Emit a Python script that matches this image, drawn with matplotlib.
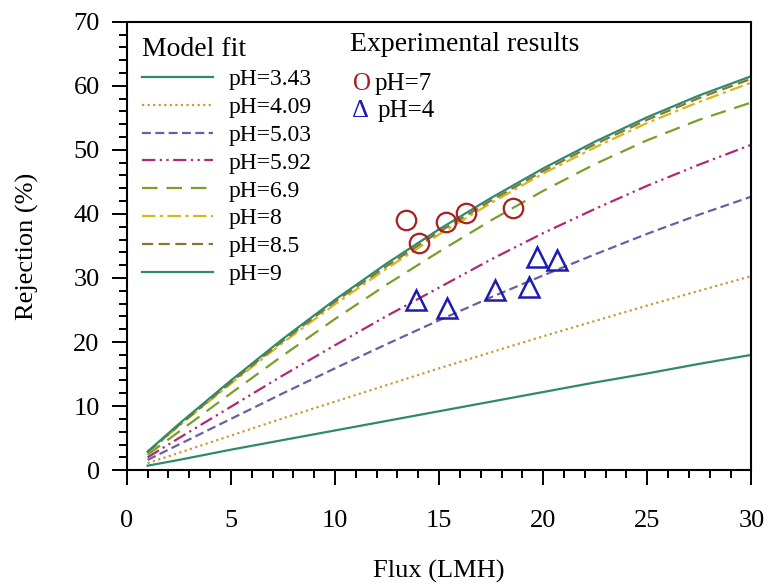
import numpy as np
import matplotlib.pyplot as plt
from matplotlib.ticker import MultipleLocator

plt.rcParams['font.family'] = ['Liberation Serif', 'DejaVu Serif']

# model curves
flux = [1, 2.5, 5, 7.5, 10, 12.5, 15, 17.5, 20, 22.5, 25, 27.5, 30]
fit_ph343 = [0.7, 1.6, 3.2, 4.7, 6.2, 7.7, 9.2, 10.7, 12.2, 13.7, 15.1, 16.6, 18.0]
fit_ph409 = [1.1, 2.7, 5.4, 8.1, 10.7, 13.3, 15.9, 18.4, 20.9, 23.3, 25.7, 28.0, 30.3]
fit_ph503 = [1.6, 4.0, 8.0, 12.0, 15.9, 19.7, 23.4, 27.0, 30.4, 33.7, 36.9, 39.9, 42.7]
fit_ph592 = [2.0, 5.0, 9.9, 14.8, 19.5, 24.1, 28.5, 32.9, 37.0, 40.8, 44.4, 47.7, 50.8]
fit_ph69 = [2.4, 6.0, 12.0, 17.9, 23.6, 29.0, 34.1, 39.0, 43.6, 47.8, 51.5, 54.7, 57.4]
fit_ph8 = [2.7, 6.9, 13.5, 19.9, 25.9, 31.5, 36.8, 41.7, 46.3, 50.4, 54.2, 57.5, 60.5]
fit_ph85 = [2.8, 7.0, 13.7, 20.2, 26.3, 31.9, 37.2, 42.1, 46.7, 50.9, 54.7, 58.1, 61.1]
fit_ph9 = [2.9, 7.2, 14.0, 20.5, 26.6, 32.3, 37.6, 42.5, 47.1, 51.3, 55.1, 58.5, 61.5]

# experimental points
exp7_flux = [13.4, 14.05, 15.35, 16.3, 18.55]
exp7_rej = [39.1, 35.4, 38.8, 40.1, 41.0]
exp4_flux = [13.9, 15.4, 17.7, 19.3, 19.7, 20.65]
exp4_rej = [26.6, 25.3, 28.1, 28.6, 33.3, 32.8]

fig = plt.figure(figsize=(7.73, 5.87), dpi=100)
ax = fig.add_axes([0.164, 0.199, 0.808, 0.764])

fits = [
    ("pH=3.43", fit_ph343, '#2f8a6c', '-'),
    ("pH=4.09", fit_ph409, '#c89a40', (0, (1, 1.5))),
    ("pH=5.03", fit_ph503, '#6a5fa0', (0, (4, 2))),
    ("pH=5.92", fit_ph592, '#b02878', (0, (6, 2, 1, 2, 1, 2))),
    ("pH=6.9", fit_ph69, '#78a028', (0, (7, 4))),
    ("pH=8", fit_ph8, '#d8b818', (0, (6, 2, 1.5, 2))),
    ("pH=8.5", fit_ph85, '#8a7434', (0, (5, 2.5))),
    ("pH=9", fit_ph9, '#2f8a6c', '-'),
]
for label, vals, color, ls in fits:
    ax.plot(flux, vals, color=color, linestyle=ls, lw=1.6, label=label)

ax.plot(exp7_flux, exp7_rej, 'o', ms=14, mfc='none', mec='#a82020', mew=1.6)
ax.plot(exp4_flux, exp4_rej, '^', ms=14, mfc='none', mec='#1c1cb0', mew=1.8)

ax.set_xlim(0, 30)
ax.set_ylim(0, 70)
ax.xaxis.set_major_locator(MultipleLocator(5))
ax.xaxis.set_minor_locator(MultipleLocator(1))
ax.yaxis.set_major_locator(MultipleLocator(10))
ax.yaxis.set_minor_locator(MultipleLocator(2))
ax.tick_params(which='major', length=10.5, width=1.4, labelsize=19)
ax.tick_params(which='minor', length=6, width=1.4)
ax.tick_params(axis='x', pad=18)
ax.tick_params(axis='y', pad=9)
for s in ax.spines.values():
    s.set_linewidth(1.5)

ax.set_xlabel("Flux (LMH)", fontsize=19)
ax.set_ylabel("Rejection (%)", fontsize=19)
ax.xaxis.set_label_coords(0.5, -0.2)
ax.yaxis.set_label_coords(-0.141, 0.5)

leg = ax.legend(loc='upper left', frameon=False, title="Model fit",
                fontsize=17, handlelength=3.0,
                handletextpad=0.65, labelspacing=0.27,
                bbox_to_anchor=(0.0, 1.0), borderaxespad=0.25)
leg.get_title().set_fontsize(20)
leg._legend_box.align = 'left'

ax.text(0.357, 0.949, "Experimental results", transform=ax.transAxes,
        fontsize=20, va='center', ha='left')
ax.text(0.362, 0.862, "O", transform=ax.transAxes, fontsize=18,
        color='#a82020', va='center', ha='left')
ax.text(0.397, 0.862, "pH=7", transform=ax.transAxes, fontsize=18,
        va='center', ha='left')
ax.text(0.360, 0.802, "Δ", transform=ax.transAxes, fontsize=19,
        color='#1c1cb0', va='center', ha='left')
ax.text(0.402, 0.800, "pH=4", transform=ax.transAxes, fontsize=18,
        va='center', ha='left')

plt.savefig("out.png", dpi=100)
